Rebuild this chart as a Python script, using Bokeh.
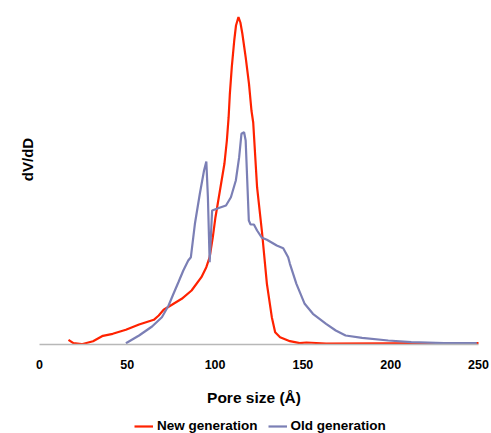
import math
from bokeh.plotting import figure
from bokeh.layouts import column
from bokeh.models import Range1d, FixedTicker, Legend, LegendItem, Label
from bokeh.embed import file_html
from bokeh.resources import INLINE

# Pore size (Å) and dV/dD (arbitrary units)
new_x = [16.5, 19.3, 24.0, 30.5, 36.1, 41.7, 49.2, 56.7, 65.1, 67.9, 70.7, 75.4,
         81.0, 86.6, 92.2, 95.0, 96.9, 98.7, 100.2, 101.5, 103.4, 105.3, 106.7,
         107.7, 108.4, 109.5, 110.9, 111.9, 113.3, 114.4, 115.5, 117.4, 119.3,
         120.7, 121.7, 123.9, 126.7, 129.5, 132.3, 134.2, 137.0, 142.6, 148.2,
         152.0, 163.2, 200.0, 250.0]
new_y = [4.7, 1.3, 0.3, 3.3, 8.7, 10.7, 14.7, 20.0, 24.7, 29.0, 34.7, 39.7,
         45.7, 54.0, 67.3, 77.3, 87.3, 107.3, 127.3, 140.7, 160.7, 180.7, 204.0,
         227.3, 250.7, 277.3, 304.0, 319.0, 327.5, 322.0, 311.0, 287.3, 260.7,
         234.0, 222.0, 157.3, 112.5, 60.7, 27.3, 12.3, 7.3, 3.3, 1.3,
         2.0, 1.0, 1.2, 1.3]

old_x = [49.2, 56.7, 64.1, 69.7, 73.5, 76.3, 79.1, 81.9, 84.7, 86.2, 88.5, 91.3,
         93.7, 95.0, 95.9, 96.9, 98.3, 102.5, 106.2, 109.0, 111.8, 113.7, 115.0,
         116.5, 117.4, 118.3, 119.2, 120.2, 122.1, 123.9, 126.7, 129.5, 135.1,
         138.8, 141.6, 142.6, 146.3, 151.0, 155.7, 163.2, 168.7, 174.3, 183.7,
         198.6, 211.7, 230.4, 249.0]
old_y = [1.3, 9.0, 18.0, 27.3, 39.0, 50.7, 62.3, 74.0, 84.0, 87.3, 120.7, 150.7,
         174.0, 183.0, 147.3, 82.3, 134.0, 136.7, 139.0, 147.3, 164.0, 187.3, 210.7,
         212.3, 204.0, 164.0, 124.0, 120.0, 120.0, 114.0, 106.7, 104.7, 99.0,
         96.3, 87.3, 80.7, 60.7, 40.7, 30.7, 20.7, 14.0, 9.0, 6.7,
         4.0, 2.3, 1.3, 1.3]

x_ticks = [0, 50, 100, 150, 200, 250]
series_names = ["New generation", "Old generation"]
y_title = "dV/dD"
x_title = "Pore size (Å)"

FONT = "Liberation Sans"
RED = "#ff2200"
BLUE = "#7b7fb5"

p = figure(width=491, height=414, output_backend="svg", toolbar_location=None,
           x_range=Range1d(-13.1, 257.4), y_range=Range1d(0, 344),
           y_axis_location=None,
           min_border_left=16, min_border_right=0, min_border_top=0,
           min_border_bottom=70)
p.outline_line_color = None
p.xgrid.visible = False
p.ygrid.visible = False
p.background_fill_color = "white"
p.border_fill_color = "white"

ax = p.xaxis[0]
ax.ticker = FixedTicker(ticks=x_ticks)
ax.bounds = (x_ticks[0], x_ticks[-1])
ax.major_tick_line_color = None
ax.minor_tick_line_color = None
ax.axis_line_color = "#b8b8b8"
ax.axis_line_width = 1.5
ax.major_label_text_font = FONT
ax.major_label_text_font_style = "bold"
ax.major_label_text_font_size = "12.5px"
ax.major_label_text_color = "black"
ax.major_label_standoff = 9
ax.axis_label = x_title
ax.axis_label_text_font = FONT
ax.axis_label_text_font_style = "bold"
ax.axis_label_text_font_size = "15.5px"
ax.axis_label_text_color = "black"
ax.axis_label_standoff = 17

p.line(new_x, new_y, line_color=RED, line_width=2.2)
p.line(old_x, old_y, line_color=BLUE, line_width=2.2)

ylab = Label(x=-6.9, y=185, text=y_title, angle=math.pi / 2,
             text_align="center", text_baseline="middle",
             text_font=FONT, text_font_style="bold", text_font_size="15px",
             text_color="black")
p.add_layout(ylab)

# Legend strip below the chart (its renderers are hidden; only the legend shows)
q = figure(width=491, height=19, output_backend="svg", toolbar_location=None,
           x_axis_location=None, y_axis_location=None,
           min_border_left=16, min_border_right=0, min_border_top=0,
           min_border_bottom=0)
q.outline_line_color = None
q.xgrid.visible = False
q.ygrid.visible = False
r_new_leg = q.line(new_x, new_y, line_color=RED, line_width=2.2, visible=False)
r_old_leg = q.line(old_x, old_y, line_color=BLUE, line_width=2.2, visible=False)
legend = Legend(items=[LegendItem(label=series_names[0], renderers=[r_new_leg]),
                       LegendItem(label=series_names[1], renderers=[r_old_leg])],
                location=(118, 0), orientation="horizontal",
                glyph_width=19, glyph_height=14, label_standoff=4, spacing=10,
                padding=0, margin=0, border_line_color=None,
                background_fill_alpha=0, inactive_fill_alpha=0,
                label_text_font=FONT, label_text_font_style="bold",
                label_text_font_size="13.5px", label_text_color="black")
q.add_layout(legend)

layout = column(p, q, spacing=0)
open("out.html", "w").write(file_html(layout, INLINE))
